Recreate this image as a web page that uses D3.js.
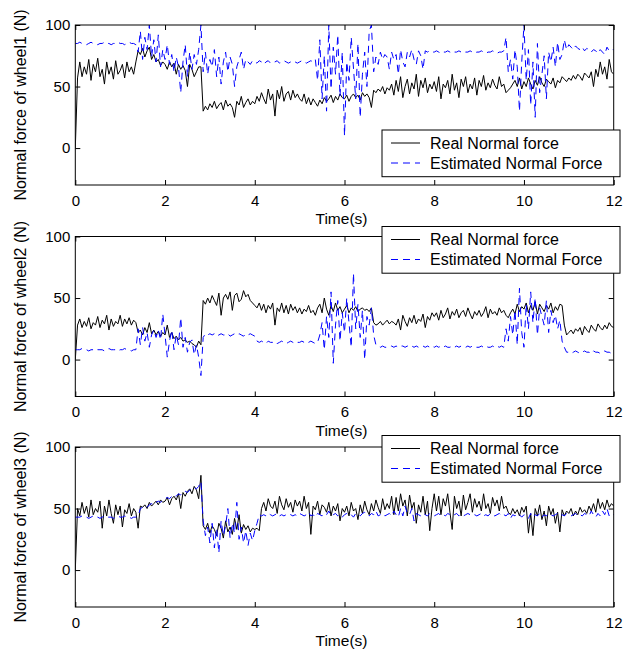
<!DOCTYPE html>
<html>
<head>
<meta charset="utf-8">
<script src="https://cdn.jsdelivr.net/npm/d3@7"></script>
<style>
body { margin: 0; background: #fff; }
svg { display: block; font-family: "Liberation Sans", Arial, sans-serif; }
</style>
</head>
<body>
<svg id="chart"></svg>
<script>
const WIDTH = 638;
const HEIGHT = 652;
const DT = 0.05; // sample interval of the series (s)

const xTicks = [0, 2, 4, 6, 8, 10, 12];
const yTicks = [0, 50, 100];
const legendText = ["Real Normal force", "Estimated Normal Force"];
const yLabels = ["Normal force of wheel1 (N)", "Normal force of wheel2 (N)", "Normal force of wheel3 (N)"];

// wheel 1
const real1 = [
  0, 57, 70, 58, 66, 60, 72, 55, 68, 62, 73, 58, 64, 52, 70, 60, 66, 56, 71, 60,
  63, 68, 57, 70, 62, 66, 60, 70, 79, 76, 81, 74, 79, 82, 72, 76, 70, 72, 67, 70,
  68, 64, 70, 66, 69, 60, 68, 64, 67, 63, 50, 68, 64, 58, 62, 66, 66, 30, 34, 31,
  36, 33, 38, 32, 35, 37, 31, 39, 34, 36, 33, 25, 38, 35, 42, 33, 37, 40, 35, 38,
  36, 42, 38, 45, 40, 36, 48, 39, 44, 26, 47, 40, 50, 38, 44, 46, 39, 47, 41, 44,
  40, 38, 44, 36, 41, 35, 40, 37, 34, 39, 36, 41, 38, 40, 43, 37, 42, 39, 44, 41,
  40, 43, 38, 42, 44, 41, 43, 39, 45, 42, 44, 41, 33, 47, 45, 48, 46, 50, 44, 49,
  47, 52, 43, 55, 46, 58, 41, 50, 56, 44, 53, 48, 60, 42, 55, 49, 57, 45, 52, 48,
  54, 46, 58, 40, 52, 49, 55, 44, 60, 47, 53, 41, 56, 50, 58, 45, 52, 48, 57, 43,
  55, 50, 59, 47, 53, 49, 56, 51, 48, 58, 50, 52, 45, 47, 49, 52, 55, 50, 57, 48,
  54, 50, 57, 52, 48, 55, 51, 58, 53, 50, 56, 54, 52, 57, 49, 55, 53, 58, 56, 54,
  57, 55, 59, 56, 60, 58, 55, 61, 59, 57, 62, 50, 64, 58, 70, 60, 66, 56, 72, 62,
  60
];
const est1 = [
  85, 85, 86, 85, 85, 84, 85, 86, 85, 85, 84, 85, 85, 86, 85, 85, 84, 85, 85, 86,
  85, 85, 84, 85, 86, 85, 85, 84, 78, 95, 72, 90, 80, 100, 74, 88, 70, 92, 66, 80,
  72, 84, 68, 76, 62, 74, 66, 45, 70, 84, 58, 78, 64, 76, 68, 80, 100, 62, 78, 60,
  72, 66, 80, 58, 74, 52, 70, 78, 62, 74, 68, 50, 66, 72, 78, 64, 72, 70, 68, 71,
  70, 69, 71, 70, 68, 70, 71, 69, 70, 70, 71, 69, 70, 71, 70, 69, 70, 71, 70, 69,
  70, 71, 70, 69, 70, 71, 70, 72, 55, 88, 40, 75, 30, 100, 48, 82, 60, 92, 42, 78,
  10, 70, 55, 90, 65, 40, 85, 25, 60, 78, 50, 95, 100, 62, 74, 68, 78, 72, 76, 74,
  64, 78, 72, 76, 60, 80, 70, 66, 78, 74, 80, 72, 68, 79, 75, 64, 79, 78, 79, 78,
  78, 79, 78, 77, 78, 78, 79, 78, 77, 78, 78, 79, 78, 77, 78, 78, 79, 78, 77, 78,
  78, 79, 78, 77, 78, 78, 79, 78, 77, 78, 78, 79, 90, 62, 72, 56, 80, 66, 30, 70,
  100, 55, 80, 35, 70, 25, 85, 45, 60, 75, 40, 78, 70, 82, 66, 86, 72, 76, 88, 80,
  84, 82, 80, 83, 81, 80, 82, 79, 81, 80, 78, 80, 79, 77, 80, 78, 76, 82, 79, 80,
  80
];

// wheel 2
const real2 = [
  0, 28, 33, 26, 31, 27, 34, 25, 30, 28, 35, 26, 32, 29, 36, 24, 33, 27, 31, 29,
  36, 27, 33, 29, 34, 28, 32, 30, 22, 24, 20, 26, 22, 30, 21, 24, 20, 23, 19, 22,
  20, 28, 18, 22, 17, 19, 16, 18, 15, 16, 14, 15, 13, 12, 10, 15, 12, 48, 45, 50,
  46, 52, 48, 44, 54, 36, 50, 53, 49, 55, 40, 52, 54, 47, 49, 56, 51, 53, 48, 46,
  44, 42, 46, 40, 45, 38, 44, 41, 46, 28, 42, 39, 46, 38, 44, 37, 45, 40, 43, 38,
  42, 37, 41, 39, 44, 38, 40, 36, 42, 45, 38, 50, 41, 36, 44, 39, 46, 40, 43, 38,
  41, 44, 38, 42, 40, 43, 39, 41, 42, 40, 41, 39, 42, 30, 28, 29, 31, 28, 30, 32,
  29, 31, 30, 28, 33, 24, 36, 31, 27, 34, 30, 36, 29, 33, 31, 37, 26, 35, 32, 38,
  35, 38, 32, 40, 34, 37, 42, 33, 39, 36, 41, 34, 38, 40, 35, 42, 37, 33, 39, 36,
  40, 35, 38, 43, 34, 41, 37, 39, 36, 42, 38, 40, 36, 34, 38, 41, 37, 45, 39, 43,
  41, 46, 38, 44, 40, 47, 37, 45, 42, 39, 44, 41, 46, 38, 43, 40, 45, 44, 28, 20,
  22, 24, 21, 25, 23, 26, 20, 27, 24, 22, 28, 25, 23, 29, 26, 24, 28, 25, 30, 27,
  26
];
const est2 = [
  8, 8, 8, 9, 8, 8, 7, 8, 8, 9, 8, 8, 8, 7, 8, 9, 8, 8, 8, 7,
  8, 8, 9, 8, 8, 7, 8, 8, 25, 12, 26, 15, 22, 10, 20, 24, 18, 24, 16, 37,
  20, 2, 15, 24, 8, 20, 12, 34, 10, 18, 6, 14, 16, 4, 12, 2, -13, 18, 21, 20,
  21, 20, 21, 19, 20, 21, 20, 20, 21, 19, 20, 21, 20, 21, 20, 19, 21, 20, 21, 20,
  19, 15, 14, 15, 14, 13, 15, 14, 14, 15, 13, 14, 15, 14, 13, 14, 15, 14, 13, 14,
  14, 15, 14, 13, 14, 15, 14, 13, 14, 20, 30, 8, 35, 18, 55, -3, 28, 48, 15, 38,
  22, 50, 30, 10, 70, 25, 45, 18, 40, 0, 35, 28, 42, 20, 12, 11, 10, 11, 10, 10,
  10, 11, 10, 11, 10, 11, 11, 10, 11, 10, 11, 10, 11, 10, 10, 11, 10, 11, 10, 11,
  10, 11, 10, 11, 10, 11, 10, 10, 11, 10, 11, 10, 11, 10, 10, 11, 10, 11, 10, 10,
  10, 11, 10, 11, 10, 10, 11, 10, 11, 10, 11, 10, 25, 15, 35, 20, 40, 12, 58, 22,
  10, 45, 25, 55, 30, 50, 20, 42, 35, 28, 48, 22, 40, 30, 36, 25, 32, 15, 10, 6,
  6, 5, 6, 7, 6, 5, 6, 7, 6, 6, 5, 7, 6, 6, 5, 6, 7, 6, 6, 5,
  6
];

// wheel 3
const real3 = [
  0, 50, 44, 55, 46, 52, 43, 57, 45, 50, 47, 56, 34, 52, 44, 57, 46, 38, 53, 45,
  52, 35, 49, 46, 54, 44, 50, 47, 34, 52, 51, 53, 50, 55, 52, 54, 56, 53, 57, 55,
  56, 59, 53, 58, 60, 57, 62, 50, 63, 60, 64, 66, 62, 68, 65, 58, 77, 36, 33, 38,
  30, 36, 33, 28, 38, 34, 26, 40, 31, 35, 29, 42, 33, 45, 30, 37, 33, 36, 31, 34,
  33, 34, 32, 50, 55, 48, 58, 52, 50, 56, 46, 60, 53, 49, 58, 51, 55, 47, 57, 52,
  56, 48, 60, 50, 55, 29, 52, 49, 56, 45, 53, 51, 47, 55, 44, 52, 48, 54, 40, 50,
  47, 52, 44, 55, 48, 50, 41, 53, 46, 56, 49, 45, 54, 48, 57, 51, 46, 58, 49, 54,
  50, 60, 45, 59, 48, 62, 52, 57, 44, 61, 50, 55, 38, 53, 47, 60, 45, 56, 32, 50,
  62, 48, 60, 45, 58, 52, 62, 47, 33, 60, 50, 56, 44, 61, 49, 55, 62, 47, 58, 51,
  56, 48, 62, 50, 54, 46, 59, 52, 57, 48, 60, 50, 52, 47, 45, 50, 46, 49, 44, 51,
  47, 52, 30, 46, 28, 50, 44, 53, 41, 48, 36, 52, 45, 50, 38, 47, 31, 49, 44, 48,
  46, 50, 44, 48, 45, 51, 47, 49, 46, 52, 48, 54, 47, 58, 50, 55, 49, 57, 51, 54,
  52
];
const est3 = [
  43, 43, 43, 44, 43, 43, 42, 43, 44, 43, 43, 42, 43, 44, 43, 43, 43, 42, 43, 44,
  43, 43, 44, 43, 43, 42, 43, 43, 44, 50, 51, 52, 51, 53, 54, 53, 55, 56, 55, 57,
  58, 59, 58, 60, 61, 60, 62, 61, 63, 64, 63, 65, 66, 67, 66, 68, 72, 40, 28, 35,
  22, 38, 18, 34, 14, 40, 28, 36, 50, 26, 38, 30, 55, 25, 35, 22, 32, 20, 30, 24,
  32, 38, 45, 44, 45, 44, 46, 45, 44, 45, 46, 44, 45, 44, 45, 46, 45, 44, 45, 44,
  46, 45, 44, 45, 47, 44, 45, 43, 46, 45, 44, 46, 45, 48, 44, 45, 46, 44, 45, 43,
  45, 46, 44, 45, 43, 46, 45, 44, 46, 47, 45, 44, 46, 45, 48, 44, 45, 46, 44, 45,
  46, 44, 48, 45, 43, 50, 44, 52, 46, 45, 50, 40, 46, 45, 44, 46, 45, 44, 46, 45,
  44, 45, 46, 44, 45, 44, 46, 45, 44, 45, 46, 44, 45, 44, 45, 46, 45, 44, 45, 44,
  45, 46, 44, 45, 44, 46, 45, 44, 45, 46, 44, 45, 44, 46, 42, 45, 44, 46, 45, 43,
  45, 44, 42, 46, 43, 45, 44, 46, 43, 45, 44, 46, 45, 44, 45, 46, 44, 45, 44, 46,
  45, 44, 45, 46, 44, 45, 44, 46, 45, 44, 48, 45, 43, 46, 44, 48, 45, 50, 44, 46,
  45
];

const panels = [
  { real: real1, est: est1, top: 25, legendTop: 130 },
  { real: real2, est: est2, top: 236.5, legendTop: 226.5 },
  { real: real3, est: est3, top: 447, legendTop: 435.5 }
];

const LEFT = 75.3, RIGHT = 613.7, PH = 160;

const svg = d3.select("#chart").attr("width", WIDTH).attr("height", HEIGHT);

const x = d3.scaleLinear().domain([0, 12]).range([LEFT, RIGHT]);

panels.forEach(function(p, k) {
  const y = d3.scaleLinear().domain([-30, 100]).range([p.top + PH, p.top]);
  const g = svg.append("g");

  g.append("clipPath").attr("id", "clip" + k)
    .append("rect").attr("x", LEFT).attr("y", p.top).attr("width", RIGHT - LEFT).attr("height", PH);

  const line = d3.line().x((d, i) => x(i * DT)).y(d => y(d));

  g.append("path").datum(p.real)
    .attr("clip-path", "url(#clip" + k + ")")
    .attr("d", line).attr("fill", "none").attr("stroke", "#000").attr("stroke-width", 1);
  g.append("path").datum(p.est)
    .attr("clip-path", "url(#clip" + k + ")")
    .attr("d", line).attr("fill", "none").attr("stroke", "#0000ff").attr("stroke-width", 1)
    .attr("stroke-dasharray", "7,5");

  // box
  g.append("rect").attr("x", LEFT).attr("y", p.top).attr("width", RIGHT - LEFT).attr("height", PH)
    .attr("fill", "none").attr("stroke", "#000").attr("stroke-width", 1);

  // ticks inside on all sides
  const axB = d3.axisBottom(x).tickValues(xTicks).tickSize(-5).tickFormat(d3.format("d"));
  const axT = d3.axisTop(x).tickValues(xTicks).tickSize(-5).tickFormat("");
  const axL = d3.axisLeft(y).tickValues(yTicks).tickSize(-5).tickFormat(d3.format("d"));
  const axR = d3.axisRight(y).tickValues(yTicks).tickSize(-5).tickFormat("");

  [[axB, "translate(0," + (p.top + PH) + ")"], [axT, "translate(0," + p.top + ")"],
   [axL, "translate(" + LEFT + ",0)"], [axR, "translate(" + RIGHT + ",0)"]].forEach(function(a) {
    const ag = g.append("g").attr("transform", a[1]).call(a[0]);
    ag.select(".domain").remove();
    ag.selectAll("line").attr("stroke", "#000");
    ag.selectAll("text").attr("fill", "#000").style("font-size", "15px")
      .style("font-family", "'Liberation Sans', Arial, sans-serif");
  });
  g.selectAll("text").filter(function() { return this.parentNode.parentNode.getAttribute("transform") === "translate(0," + (p.top + PH) + ")"; })
    .attr("y", 10).attr("dy", "0.71em");
  g.selectAll("text").filter(function() { return this.parentNode.parentNode.getAttribute("transform") === "translate(" + LEFT + ",0)"; })
    .attr("x", -5);

  g.append("text").attr("x", (LEFT + RIGHT) / 2 - 3).attr("y", p.top + PH + 39)
    .attr("text-anchor", "middle").style("font-size", "15.5px").text("Time(s)");

  g.append("text")
    .attr("transform", "translate(26," + (p.top + PH / 2) + ") rotate(-90)")
    .attr("text-anchor", "middle").style("font-size", "16px").text(yLabels[k]);

  // legend
  const lg = g.append("g").attr("transform", "translate(382," + p.legendTop + ")");
  lg.append("rect").attr("width", 238).attr("height", 46.7)
    .attr("fill", "#fff").attr("stroke", "#000").attr("stroke-width", 1);
  [["#000", null], ["#0000ff", "7,5"]].forEach(function(s, j) {
    const yy = 13 + j * 20;
    lg.append("line").attr("x1", 9).attr("x2", 38).attr("y1", yy).attr("y2", yy)
      .attr("stroke", s[0]).attr("stroke-width", 1).attr("stroke-dasharray", s[1]);
    lg.append("text").attr("x", 48).attr("y", yy).attr("dy", "0.36em")
      .style("font-size", "16px").text(legendText[j]);
  });
});
</script>
</body>
</html>
